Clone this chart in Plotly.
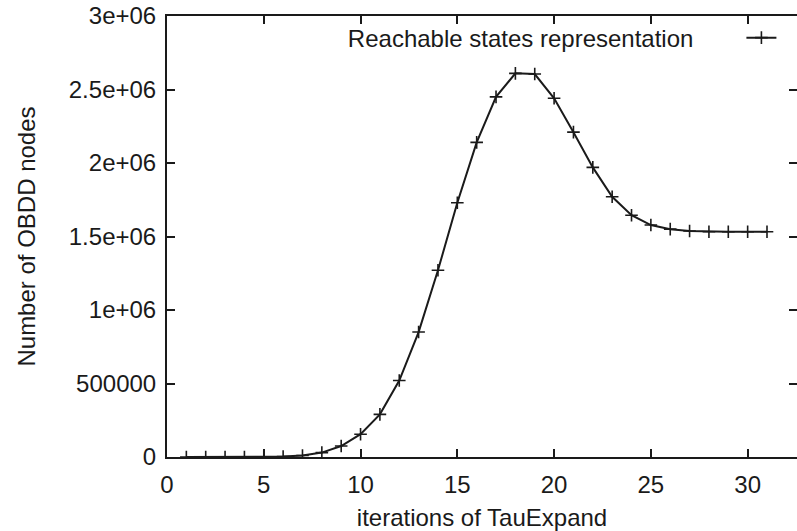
import plotly.graph_objects as go

iterations = list(range(1, 32))
obdd_nodes = [0, 0, 0, 0, 1000, 3000, 10000, 30000, 75000, 155000,
              290000, 520000, 850000, 1270000, 1730000, 2140000, 2450000,
              2610000, 2605000, 2440000, 2210000, 1970000, 1770000, 1645000,
              1578000, 1550000, 1537000, 1532000, 1532000, 1532000, 1532000]

y_tickvals = [0, 500000, 1000000, 1500000, 2000000, 2500000, 3000000]
y_ticktext = ["0", "500000", "1e+06", "1.5e+06", "2e+06", "2.5e+06", "3e+06"]
x_tickvals = [0, 5, 10, 15, 20, 25, 30]

series_name = "Reachable states representation"
x_title = "iterations of TauExpand"
y_title = "Number of OBDD nodes"

font_family = "Liberation Sans, Arial, sans-serif"
ink = "#1a1a1a"

fig = go.Figure()
fig.add_trace(go.Scatter(
    x=iterations, y=obdd_nodes, mode="lines+markers",
    name=" ",
    line=dict(color=ink, width=2),
    marker=dict(symbol="cross-thin", size=9, line=dict(color=ink, width=1.6)),
))

axis_common = dict(
    showline=True, linecolor=ink, linewidth=2, mirror="ticks",
    ticks="inside", ticklen=8, tickwidth=1.5, tickcolor=ink,
    showgrid=False, zeroline=False, automargin=False,
    tickfont=dict(family=font_family, size=24, color=ink),
)

fig.update_layout(
    width=797, height=531,
    margin=dict(l=167, r=0, t=16, b=74),
    paper_bgcolor="white", plot_bgcolor="white",
    font=dict(family=font_family, color=ink),
    showlegend=True,
    legend=dict(x=0.995, y=0.95, xanchor="right", yanchor="middle",
                bgcolor="rgba(0,0,0,0)",
                title=dict(text=series_name + "\u00a0" * 6, side="left",
                           font=dict(size=24, family=font_family, color=ink)),
                font=dict(size=24, family=font_family, color=ink),
                itemwidth=30),
    xaxis=dict(range=[0, 32.55], tickvals=x_tickvals, ticklabelstandoff=5,
               title=dict(text=x_title, standoff=15,
                          font=dict(size=24, family=font_family, color=ink)),
               **axis_common),
    yaxis=dict(range=[0, 3000000], tickvals=y_tickvals, ticktext=y_ticktext,
               ticklabelstandoff=4,
               title=dict(text=y_title, standoff=26,
                          font=dict(size=24, family=font_family, color=ink)),
               **axis_common),
)

fig.write_html("out.html")
